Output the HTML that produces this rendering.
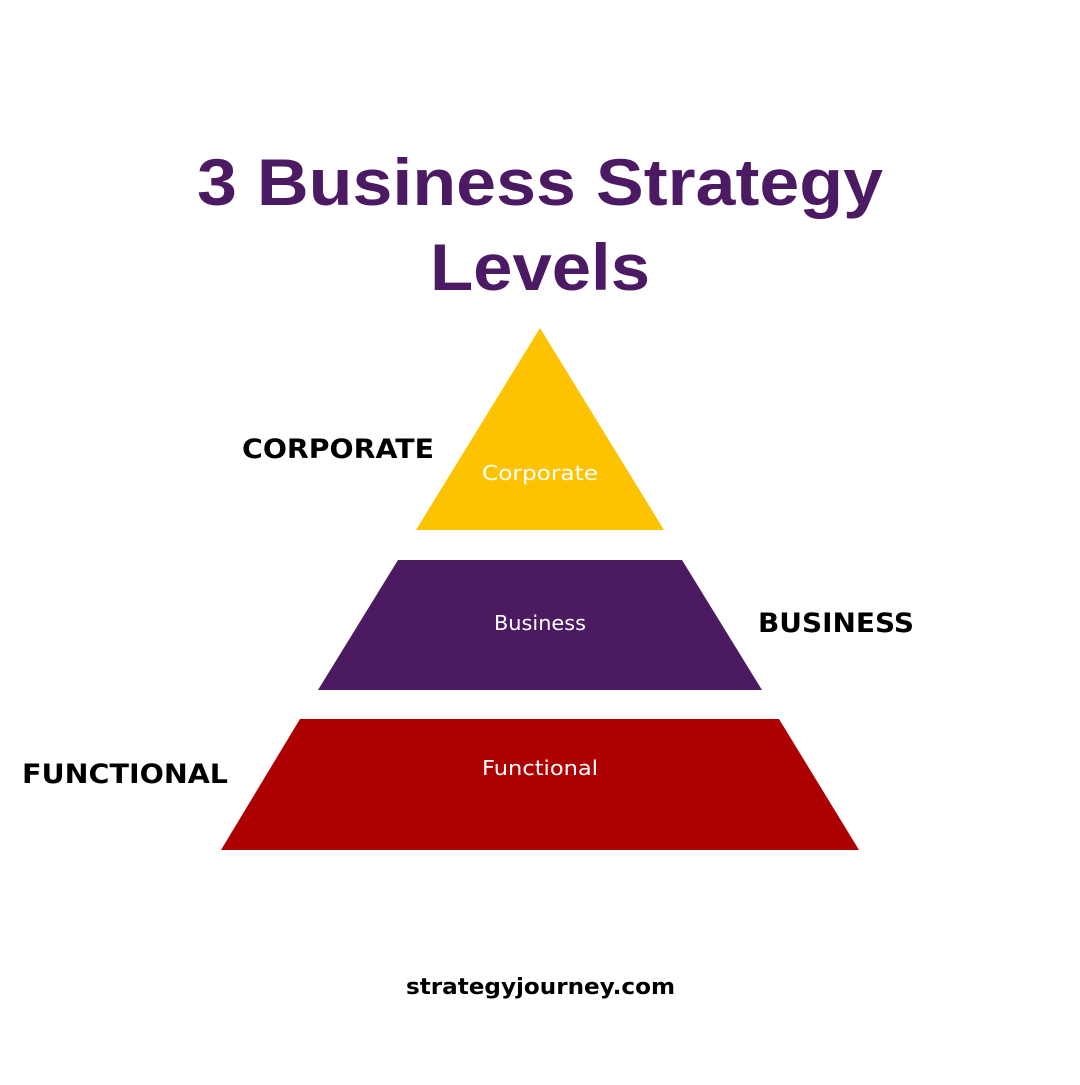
<!DOCTYPE html>
<html><head><meta charset="utf-8"><style>html,body{margin:0;padding:0;background:#fff}</style></head>
<body>
<svg width="1080" height="1080" viewBox="0 0 1080 1080" xmlns="http://www.w3.org/2000/svg">
<rect width="1080" height="1080" fill="#fff"/>
<g font-family="Liberation Sans, sans-serif" font-weight="bold" fill="#4B1A63" text-anchor="middle">
<text x="540" y="205" font-size="66" textLength="686" lengthAdjust="spacingAndGlyphs">3 Business Strategy</text>
<text x="540" y="290" font-size="66" textLength="220" lengthAdjust="spacingAndGlyphs">Levels</text>
</g>
<polygon points="540,328 416,530 664,530" fill="#FDC300"/>
<polygon points="398,560 682,560 762,690 318,690" fill="#4B1A60"/>
<polygon points="300,719 779,719 859,850 221,850" fill="#AD0000"/>
<g font-family="DejaVu Sans, sans-serif" fill="#fff" text-anchor="middle" font-size="20">
<text x="540" y="480" textLength="116" lengthAdjust="spacingAndGlyphs">Corporate</text>
<text x="540" y="630" textLength="92" lengthAdjust="spacingAndGlyphs">Business</text>
<text x="540" y="775" textLength="116" lengthAdjust="spacingAndGlyphs">Functional</text>
</g>
<g font-family="DejaVu Sans, sans-serif" font-weight="bold" fill="#000" font-size="27">
<text x="242" y="458" textLength="192" lengthAdjust="spacingAndGlyphs">CORPORATE</text>
<text x="758" y="632" textLength="156" lengthAdjust="spacingAndGlyphs">BUSINESS</text>
<text x="22" y="783" textLength="206" lengthAdjust="spacingAndGlyphs">FUNCTIONAL</text>
<text x="406" y="994" font-size="22" textLength="269" lengthAdjust="spacingAndGlyphs">strategyjourney.com</text>
</g>
</svg>
</body></html>
